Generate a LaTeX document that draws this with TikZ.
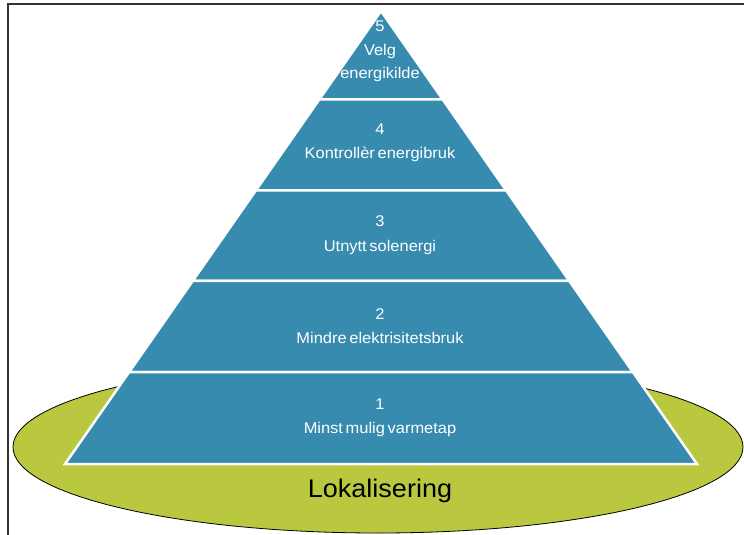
\documentclass[tikz,border=0pt]{standalone}
\usepackage{fontspec}
\setmainfont{Liberation Sans}
\newfontfamily\pyrfont[FakeStretch=1.06,WordSpace=0.6]{Liberation Sans}
\usetikzlibrary{calc}
\definecolor{pyrblue}{HTML}{378BAF}
\definecolor{basegreen}{HTML}{B9C83E}
\definecolor{framegray}{HTML}{333333}
\tikzset{
  slice/.style={fill=pyrblue, draw=white, line width=2.5pt, line join=miter},
  slicetext/.style={text=white, align=center, inner sep=0pt,
    font=\pyrfont\fontsize{15.5}{24.5}\selectfont},
  basetext/.style={text=black, inner sep=0pt,
    font=\pyrfont\fontsize{25.5}{30}\selectfont},
}
\begin{document}
\begin{tikzpicture}[x=1pt,y=-1pt]
\useasboundingbox (0,0) rectangle (744,535);
% frame
\draw[framegray, line width=2pt] (8,535) -- (8,4.5) -- (744,4.5);
% base ellipse
\draw[fill=basegreen, draw=black, line width=0.8pt] (378,447) ellipse [x radius=365pt, y radius=86pt];
% pyramid corners
\coordinate (A) at (381,11);
\coordinate (BL) at (65,464);
\coordinate (BR) at (697,464);
\foreach \i/\t in {1/0.195,2/0.396,3/0.596,4/0.797}{
  \coordinate (L\i) at ($(A)!\t!(BL)$);
  \coordinate (R\i) at ($(A)!\t!(BR)$);
}
\draw[slice] (A) -- (R1) -- (L1) -- cycle;
\draw[slice] (L1) -- (R1) -- (R2) -- (L2) -- cycle;
\draw[slice] (L2) -- (R2) -- (R3) -- (L3) -- cycle;
\draw[slice] (L3) -- (R3) -- (R4) -- (L4) -- cycle;
\draw[slice] (L4) -- (R4) -- (BR) -- (BL) -- cycle;
% texts
\node[slicetext, font=\pyrfont\fontsize{15.5}{23.5}\selectfont] (t5) at (380,51.5) {5\\Velg\\energikilde};
\node[slicetext] (t4) at (380,143) {4\\Kontrollèr energibruk};
\node[slicetext] (t3) at (380,235) {3\\Utnytt solenergi};
\node[slicetext] (t2) at (380,326) {2\\Mindre elektrisitetsbruk};
\node[slicetext] (t1) at (380,418) {1\\Minst mulig varmetap};
\node[basetext] (loc) at (380,491) {Lokalisering};
\end{tikzpicture}
\end{document}
